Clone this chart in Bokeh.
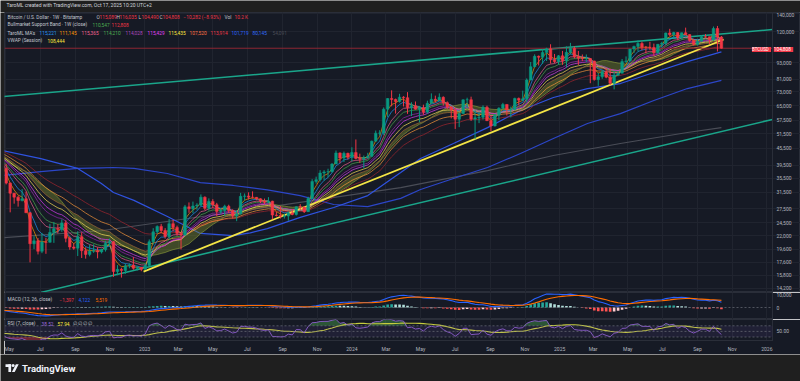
import numpy as np
import pandas as pd
from bokeh.plotting import figure
from bokeh.layouts import column, row
from bokeh.models import (Range1d, FixedTicker, NumeralTickFormatter, CustomJSTickFormatter, LogAxis,
                          Label, Span, BoxAnnotation, Grid, ColumnDataSource)
from bokeh.embed import file_html
from bokeh.resources import INLINE

# ------------------------------------------------------------------ data
# weekly BTCUSD candles, week of 2022-04-25 .. week of 2025-10-13
opens = [39450, 38470, 34060, 31300, 30300, 29450, 29900, 26600, 20550, 21050, 19300, 20850, 20800, 22580, 23300, 23170, 24450, 21500, 20000, 19800, 21800, 19400, 18800, 19300, 19400, 19200, 19550, 20650, 20900, 16300, 16600, 16450, 17100, 17200, 16750, 16850,
         16600, 17150, 20900, 22700, 23750, 22950, 21800, 24300, 23550, 22400, 22100, 27950, 27500, 28150, 28350, 30300, 27600, 29250, 28450, 26900, 27100, 28100, 27100, 25900, 26350, 30500, 30600, 30300, 30250, 29900, 29300, 29050, 29300, 26100, 26000, 25850, 25900, 26550, 26250, 27950, 27900, 26850, 29950, 34550, 35050, 37050, 37400, 37450, 39950, 43800, 41950, 43650,
         42250, 43950, 41850, 41550, 42050, 42600, 48300, 51650, 51700, 63100, 68950, 68400, 67250, 69700, 69400, 63900, 64950, 63100, 63900, 61500, 66250, 68500, 67750, 69650, 66600, 64250, 62700, 58000, 60800, 68200, 68250, 58100, 58700, 58950, 64150, 57300, 54850, 59950, 63550, 65600, 62800, 62850, 69000, 68000, 68750, 80450, 89850, 98000, 97250, 101200, 104300, 95200, 93700,
         98350, 94500, 101300, 104700, 97700, 96500, 96100, 96250, 94250, 80700, 82600, 86100, 82350, 78300, 83750, 85150, 93750, 94300, 104100, 106450, 109000, 105700, 105650, 105500, 100950, 108350, 109200, 119050, 117250, 119400, 114250, 119250, 117450, 111800, 108250, 111150, 115350, 115250, 112200, 123550, 115089]
highs = [40800, 40000, 34250, 31400, 30650, 32400, 31700, 26800, 21900, 21550, 22500, 21600, 24250, 24650, 24200, 25200, 25000, 21800, 20600, 22800, 22600, 19950, 20400, 20450, 19950, 19700, 21050, 21450, 21000, 17200, 16800, 17400, 17450, 18400, 17050, 16950,
         17400, 21300, 23400, 23950, 24250, 23400, 25250, 25100, 23900, 22600, 28400, 29000, 29200, 28800, 31000, 30500, 30000, 29800, 28900, 27650, 28450, 28450, 27400, 27200, 31400, 31250, 31550, 31800, 30350, 30000, 29950, 30300, 29400, 26800, 28150, 26400, 26900, 27450, 28050, 28600, 28000, 30400, 35200, 35950, 37950, 37950, 38400, 40200, 44700, 44000, 44300, 43900,
         45900, 49000, 43550, 42850, 43850, 48550, 52800, 52950, 64000, 69150, 73800, 68900, 71700, 70300, 72700, 66800, 67250, 64750, 65500, 67700, 71950, 70600, 71950, 70200, 67300, 64500, 63800, 61500, 68400, 69400, 70000, 62700, 61800, 65100, 64950, 59800, 60650, 64100, 66500, 65700, 64450, 69400, 69500, 73600, 81500, 93450, 99600, 98650, 104000, 105200, 108350, 99950, 99000,
         102500, 106400, 109600, 106500, 102500, 99500, 99500, 96500, 94400, 85300, 87450, 88800, 88500, 86100, 86450, 95800, 97900, 104150, 107100, 111900, 110700, 106800, 110600, 108950, 108550, 110600, 119450, 123200, 120250, 119800, 119300, 124450, 117650, 113500, 113350, 116800, 117900, 115400, 125600, 126200, 116035]
lows = [37700, 33700, 26700, 28700, 28000, 29250, 26550, 17600, 19650, 18800, 19000, 18900, 20750, 20700, 22400, 22700, 20800, 19550, 19550, 18550, 18250, 18150, 18500, 19050, 18200, 18950, 19250, 20050, 15600, 15800, 15500, 16000, 16750, 16550, 16450, 16350,
        16550, 17100, 20400, 22300, 22500, 21450, 21400, 22750, 21950, 19600, 21900, 26600, 26500, 27300, 28150, 27200, 27100, 27700, 25850, 26350, 25900, 26550, 25350, 24800, 26250, 29500, 29700, 29950, 29550, 28850, 28600, 28750, 25200, 25800, 25350, 25350, 24900, 26050, 26000, 27200, 26550, 26800, 29850, 33900, 34500, 34800, 35700, 37200, 39900, 40200, 40600, 41450,
        40800, 41500, 40300, 38550, 41800, 42300, 48250, 50600, 50900, 59050, 64600, 60800, 66650, 64500, 60650, 59600, 62800, 56550, 60200, 60750, 66150, 66600, 67600, 65000, 63100, 58400, 53500, 54300, 60600, 63500, 57200, 49100, 56150, 57800, 57250, 52550, 54600, 57600, 62750, 59850, 58900, 62450, 65100, 67500, 66800, 80250, 89500, 90800, 92000, 94200, 92200, 92600, 91500,
        91250, 89300, 99550, 96200, 91200, 94100, 93400, 78300, 80000, 76600, 81200, 81600, 77150, 74400, 83100, 85100, 92800, 93350, 100700, 102000, 103100, 100400, 103400, 98200, 99650, 105300, 107500, 115750, 114750, 112000, 112700, 116800, 110700, 107300, 107250, 110650, 114350, 108650, 111550, 102000, 104490]
closes = [38470, 34060, 31300, 30300, 29450, 29900, 26600, 20550, 21050, 19300, 20850, 20800, 22580, 23300, 23170, 24450, 21500, 20000, 19800, 21800, 19400, 18800, 19300, 19400, 19200, 19550, 20650, 20900, 16300, 16600, 16450, 17100, 17200, 16750, 16850, 16600,
          17150, 20900, 22700, 23750, 22950, 21800, 24300, 23550, 22400, 22100, 27950, 27500, 28150, 28350, 30300, 27600, 29250, 28450, 26900, 27100, 28100, 27100, 25900, 26350, 30500, 30600, 30300, 30250, 29900, 29300, 29050, 29300, 26100, 26000, 25850, 25900, 26550, 26250, 27950, 27900, 26850, 29950, 34550, 35050, 37050, 37400, 37450, 39950, 43800, 41950, 43650, 42250,
          43950, 41850, 41550, 42050, 42600, 48300, 51650, 51700, 63100, 68950, 68400, 67250, 69700, 69400, 63900, 64950, 63100, 63900, 61500, 66250, 68500, 67750, 69650, 66600, 64250, 62700, 58000, 60800, 68200, 68250, 58100, 58700, 58950, 64150, 57300, 54850, 59950, 63550, 65600, 62800, 62850, 69000, 68000, 68750, 80450, 89850, 98000, 97250, 101200, 104300, 95200, 93700, 98350,
          94500, 101300, 104700, 97700, 96500, 96100, 96250, 94250, 80700, 82600, 86100, 82350, 78300, 83750, 85150, 93750, 94300, 104100, 106450, 109000, 105700, 105650, 105500, 100950, 108350, 109200, 119050, 117250, 119400, 114250, 119250, 117450, 111800, 108250, 111150, 115350, 115250, 112200, 123550, 115089, 104808]
last_bar = "2025-10-13"
# weekly closes before the visible window (warm-up of the indicators)
pre_closes = [46000, 47300, 43200, 48200, 54700, 61500, 60900, 61300, 63300, 65500, 58600, 57300, 49400,
              50100, 46700, 50800, 47300, 41800, 43100, 36300, 38100, 42400, 42200, 38400, 37700, 38400,
              37800, 41300, 46800, 46400, 42200, 39700, 39400]

# long moving averages
ma_dates = ["2022-04-25", "2022-07-02", "2022-09-05", "2022-10-16", "2022-11-07", "2022-12-13", "2023-02-10",
            "2023-04-09", "2023-06-06", "2023-07-06", "2023-08-05", "2023-10-02", "2023-11-30", "2024-01-29",
            "2024-03-27", "2024-05-01", "2024-06-28", "2024-08-27", "2024-10-24", "2024-12-21", "2025-02-19",
            "2025-04-18", "2025-06-16", "2025-08-14", "2025-10-13"]
ma50w = [44700, 41800, 38500, 34000, 31500, 29500, 25800, 22400, 22000, 22500, 23300, 25600, 27800, 30700,
         37200, 41800, 47400, 54100, 62400, 69500, 74900, 78100, 85600, 93800, 101719]
ma100w = [36300, 37500, 38500, 38700, 38800, 38500, 36900, 34200, 33400, 32800, 32200, 30700, 28500, 28000,
          30000, 32300, 35400, 38800, 43600, 49400, 56000, 60800, 67800, 74900, 80145]
ma200w_dates = ["2022-04-25", "2022-10-16", "2023-07-06", "2024-03-27", "2024-08-27", "2024-12-21", "2025-04-18",
                "2025-08-14", "2025-10-13"]
ma200w = [21600, 22900, 27300, 32800, 37800, 42900, 47400, 51900, 54091]

# drawn trend lines (date, price end points)
upper_channel = (["2022-04-25", "2026-01-11"], [70000, 122500])
lower_channel = (["2022-07-02", "2026-01-11"], [13700, 57900])
support_line = (["2022-12-30", "2025-10-17"], [16300, 112700])
last_price = 104808

price_ticks = [14200, 15800, 17600, 19600, 22000, 24500, 27500, 31500, 35500, 39500, 45500, 51500, 57500,
               65000, 73000, 81000, 93000, 120000, 140000]

# ------------------------------------------------------------------ style
BG = "#161a25"
CHROME = "#1f1f1f"
SEP = "#2a2e39"
GRID = "#20242f"
TXT = "#b2b5be"
LEG = "#c3c6ce"
UP = "#089981"
DN = "#f23645"
FONT = "Roboto"
LSTRIP = 4
W = 768
RB = 28
PH, MH, RH, AXH = 280, 27, 21, 14

# ------------------------------------------------------------------ computations
dates = pd.date_range(end=last_bar, periods=len(closes), freq="7D")
pre_dates = pd.date_range(end=dates[0] - pd.Timedelta(days=7), periods=len(pre_closes), freq="7D")
close_all = pd.Series(pre_closes + closes, index=pre_dates.append(dates), dtype=float)
n = len(closes)


def ema(s, span):
    return s.ewm(span=span, adjust=False).mean()


def vis(s):
    return s.iloc[-n:].to_numpy()


o = np.array(opens, float)
h = np.array(highs, float)
l = np.array(lows, float)
c = np.array(closes, float)
up = c >= o
src = ColumnDataSource(dict(date=dates, high=h, low=l, top=np.maximum(o, c), bottom=np.minimum(o, c),
                            color=np.where(up, UP, DN)))

x0 = pd.Timestamp("2022-04-29")
x1 = pd.Timestamp("2026-01-11")
xr = Range1d(x0, x1)
# the price pane's frame also runs under its price scale
xr_price = Range1d(x0, x0 + (x1 - x0) * ((W + RB) / W))
scale_edge_ms = float(x1.value // 10**6)
month_dates = pd.date_range("2022-05-01", "2026-01-01", freq="2MS")
month_ms = [float(d.value // 10**6) for d in month_dates]
BAR_W = 4.6 * 86400000


def style_axis(ax, standoff):
    ax.major_tick_line_color = None
    ax.minor_tick_line_color = None
    ax.major_tick_out = 0
    ax.major_tick_in = 0
    ax.minor_tick_out = 0
    ax.minor_tick_in = 0
    ax.axis_line_color = SEP
    ax.major_label_text_color = TXT
    ax.major_label_text_font_size = "5px"
    ax.major_label_text_font = FONT
    ax.major_label_standoff = standoff


def base(fw, hgt, x_range, yr, ylog=False, bottom_axis=False, right_axis=True):
    p = figure(frame_width=fw, frame_height=hgt, x_range=x_range, y_range=yr,
               x_axis_type="datetime", y_axis_type="log" if ylog else "linear",
               x_axis_location="below" if bottom_axis else None,
               y_axis_location="right" if right_axis else None,
               toolbar_location=None, output_backend="svg",
               min_border_left=0, min_border_right=RB if right_axis else 0, min_border_top=0,
               min_border_bottom=AXH if bottom_axis else 0,
               background_fill_color=BG, border_fill_color=BG,
               outline_line_color=SEP, outline_line_width=1)
    p.center = [r for r in p.center if not isinstance(r, Grid)]
    p.add_layout(Grid(dimension=0, ticker=FixedTicker(ticks=month_ms), grid_line_color=GRID))
    if right_axis:
        style_axis(p.yaxis[0], 4)
    return p


def lbl(fig, x, y, text, color, size="4.8px", bold=False, align="left", bg=None):
    fig.add_layout(Label(x=x, y=y, x_units="screen", y_units="screen", text=text, text_color=color,
                         text_font_size=size, text_font=FONT, text_baseline="middle", text_align=align,
                         text_font_style="bold" if bold else "normal",
                         background_fill_color=bg, background_fill_alpha=1.0 if bg else 0.0))


# ------------------------------------------------------------------ price pane
pp = base(W + RB, PH, xr_price, Range1d(13690, 141170), ylog=True, right_axis=False)
pax = LogAxis(ticker=FixedTicker(ticks=price_ticks), formatter=NumeralTickFormatter(format="0,0"),
              fixed_location=scale_edge_ms)
style_axis(pax, 4)
pp.add_layout(pax, "right")
pp.add_layout(Grid(dimension=1, ticker=FixedTicker(ticks=price_ticks), grid_line_color=GRID))

# long MAs
pp.line(pd.to_datetime(ma200w_dates), ma200w, line_color="#4a4d57", line_width=1.1)
pp.line(pd.to_datetime(ma_dates), ma100w, line_color="#2c46c8", line_width=1.2)
pp.line(pd.to_datetime(ma_dates), ma50w, line_color="#2f53e0", line_width=1.2)

# trend lines
pp.line(pd.to_datetime(upper_channel[0]), upper_channel[1], line_color="#1aa58a", line_width=1.6)
pp.line(pd.to_datetime(lower_channel[0]), lower_channel[1], line_color="#1aa58a", line_width=1.6)

# bull market support band
sma20 = vis(close_all.rolling(20, min_periods=1).mean())
ema21 = vis(ema(close_all, 21))
pp.varea(x=dates, y1=sma20, y2=ema21, fill_color="#7d8a2e", fill_alpha=0.42)
pp.line(dates, sma20, line_color="#8a9a3a", line_width=0.8, line_alpha=0.8)
pp.line(dates, ema21, line_color="#a86a3a", line_width=0.8, line_alpha=0.8)

# ribbon of MAs
ribbon = [(34, "#a8262f"), (26, "#ff9a3c"), (18, "#ffe45c"), (15, "#e040fb"), (13, "#9c27b0"),
          (10, "#4caf50"), (8, "#f06292"), (5, "#2196f3"), (3, "#ff9800")]
for span, col in ribbon:
    pp.line(dates, vis(ema(close_all, span)), line_color=col, line_width=0.8, line_alpha=0.85)

# support trend line
pp.line(pd.to_datetime(support_line[0]), support_line[1], line_color="#f3e445", line_width=1.8)

# last price line
pp.line([x0, x1], [last_price, last_price], line_color="#8e2633", line_width=1)

# candles
pp.segment(x0="date", y0="low", x1="date", y1="high", line_color="color", line_width=1, source=src)
pp.vbar(x="date", width=BAR_W, top="top", bottom="bottom", fill_color="color", line_color="color",
        line_width=0.5, source=src)

# legend texts
y1, y2, y3, y4 = PH - 4.7, PH - 12.3, PH - 20.7, PH - 28.0
lbl(pp, 3, y1, "Bitcoin / U.S. Dollar · 1W · Bitstamp", LEG)
for x, t, col in [(92, "O", LEG), (95, "115,089", DN), (112, "H", LEG), (115, "116,035", DN),
                  (134, "L", LEG), (137, "104,490", DN), (155, "C", LEG), (158, "104,808", DN),
                  (179, "−10,282 (−8.93%)", DN), (220, "Vol", LEG), (230, "10.2 K", DN)]:
    lbl(pp, x, y1, t, col)
lbl(pp, 3, y2, "Bullmarket Support Band · 1W (close)", LEG)
lbl(pp, 88, y2, "110,547", "#4caf50")
lbl(pp, 107, y2, "112,808", DN)
lbl(pp, 3, y3, "TaroML MA's", LEG)
ma_vals = ["115,221", "111,145", "115,365", "114,210", "114,028", "115,429", "115,435", "107,520",
           "113,914", "101,719", "80,145", "54,091"]
ma_cols = ["#2196f3", "#ff9800", "#f06292", "#4caf50", "#ab47bc", "#e040fb", "#ffeb3b", "#ff7043",
           "#f23645", "#2962ff", "#2f6bff", "#4a4d57"]
ma_x = [35, 55, 77, 99, 121, 143, 164, 185, 206, 227, 248, 268]
for x, t, col in zip(ma_x, ma_vals, ma_cols):
    lbl(pp, x, y3, t, col)
lbl(pp, 3, y4, "VWAP (Session)", LEG)
lbl(pp, 43, y4, "108,444", "#ffeb3b")

# symbol and last-price tags
lbl(pp, 757, PH - 37, " BTCUSD ", "#ffffff", size="4.5px", align="center", bg=DN)
lbl(pp, 779, PH - 37, " 104,808 ", "#ffffff", size="4.8px", align="center", bg=DN)

# ------------------------------------------------------------------ MACD pane
pm = base(W, MH, xr, Range1d(-9230, 11540))
pm.yaxis[0].ticker = FixedTicker(ticks=[0, 10000])
pm.yaxis[0].formatter = NumeralTickFormatter(format="0,0")
macd = ema(close_all, 12) - ema(close_all, 26)
signal = ema(macd, 9)
hist = macd - signal
hprev = hist.shift(1)
hcol = np.where(hist >= 0, np.where(hist >= hprev, "#26a69a", "#b2dfdb"),
                np.where(hist < hprev, "#ff5252", "#ffcdd2"))
pm.add_layout(Span(location=0, dimension="width", line_color="#787b86", line_alpha=0.6,
                   line_dash="2 2", line_width=1))
pm.vbar(x=dates, width=BAR_W, top=vis(hist), bottom=0, fill_color=hcol[-n:], line_color=None)
pm.line(dates, vis(macd), line_color="#2962ff", line_width=1.1)
pm.line(dates, vis(signal), line_color="#ff6d00", line_width=1.1)
lbl(pm, 3, MH - 7, "MACD (12, 26, close)", LEG)
lbl(pm, 55, MH - 7, "−1,397", DN)
lbl(pm, 74, MH - 7, "4,122", "#2962ff")
lbl(pm, 91, MH - 7, "5,519", "#ff6d00")

# ------------------------------------------------------------------ RSI pane
pr = base(W, RH, xr, Range1d(17.5, 92.5), bottom_axis=True)
pr.yaxis[0].ticker = FixedTicker(ticks=[50])
pr.yaxis[0].formatter = NumeralTickFormatter(format="0.00")
delta = close_all.diff()
gain = delta.clip(lower=0).ewm(alpha=1 / 7, adjust=False).mean()
loss = (-delta.clip(upper=0)).ewm(alpha=1 / 7, adjust=False).mean()
rsi = 100 - 100 / (1 + gain / loss)
rsi_ma = rsi.rolling(14, min_periods=1).mean()
rv = vis(rsi)
pr.add_layout(BoxAnnotation(bottom=30, top=70, fill_color="#7e57c2", fill_alpha=0.1, line_color=None))
for lv in (70, 50, 30):
    pr.add_layout(Span(location=lv, dimension="width", line_color="#787b86", line_alpha=0.6,
                       line_dash="2 2", line_width=1))
pr.varea(x=dates, y1=70, y2=np.maximum(rv, 70), fill_color="#4caf50", fill_alpha=0.4)
pr.varea(x=dates, y1=np.minimum(rv, 30), y2=30, fill_color="#f23645", fill_alpha=0.4)
pr.line(dates, vis(rsi_ma), line_color="#c6cc3e", line_width=1.1)
pr.line(dates, rv, line_color="#8e5fd0", line_width=0.9)
lbl(pr, 3, RH - 4, "RSI (7, close)", LEG)
lbl(pr, 37, RH - 4, "38.52", "#9c6ade")
lbl(pr, 53, RH - 4, "57.94", "#ffeb3b")
lbl(pr, 68, RH - 4, "∅  ∅  ∅  ∅", LEG)
xa = pr.xaxis[0]
xa.ticker = FixedTicker(ticks=month_ms)
xa.formatter = CustomJSTickFormatter(code="""
const d = new Date(tick);
const m = d.getUTCMonth();
const names = ["Jan","Feb","Mar","Apr","May","Jun","Jul","Aug","Sep","Oct","Nov","Dec"];
return m == 0 ? String(d.getUTCFullYear()) : names[m];
""")
style_axis(xa, 5)

# ------------------------------------------------------------------ header, footer, side strip


def strip(wd, hgt):
    f = figure(width=wd, height=hgt, x_range=Range1d(0, wd), y_range=Range1d(0, hgt),
               toolbar_location=None, output_backend="svg", min_border=0,
               x_axis_location=None, y_axis_location=None,
               background_fill_color=CHROME, border_fill_color=CHROME, outline_line_color=None)
    f.grid.visible = False
    return f


TOTAL_W = LSTRIP + W + RB
hdr = strip(TOTAL_W, 12)
lbl(hdr, 6, 7.3, "TaroML created with TradingView.com, Oct 17, 2025 10:20 UTC+2", "#d1d4dc", size="5px")

side = strip(LSTRIP, PH + MH + RH + AXH)

ftr = strip(TOTAL_W, 27)
ftr.quad(left=[5], right=[10.6], bottom=[14.6], top=[17.2], fill_color="#f0f3fa", line_color=None)
ftr.quad(left=[7.9], right=[10.6], bottom=[9.4], top=[17.2], fill_color="#f0f3fa", line_color=None)
ftr.scatter(x=[12.6], y=[15.9], size=3.0, fill_color="#f0f3fa", line_color=None)
ftr.patch(x=[11.4, 14.2, 18.2, 15.4], y=[9.4, 9.4, 17.2, 17.2], fill_color="#f0f3fa", line_color=None)
lbl(ftr, 21.5, 13.2, "TradingView", "#f0f3fa", size="9.5px", bold=True)

panes = column(pp, pm, pr, spacing=0)
layout = column(hdr, row(side, panes, spacing=0), ftr, spacing=0)
open("out.html", "w").write(file_html(layout, INLINE))
